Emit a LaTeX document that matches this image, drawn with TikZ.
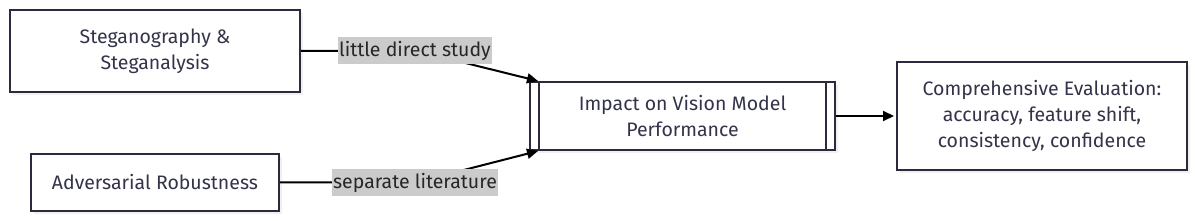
\documentclass[tikz,border=0pt]{standalone}
\usepackage{fontspec}
\setmainfont{Fira Sans}
\usetikzlibrary{positioning,arrows.meta,shadows}
\definecolor{boxline}{HTML}{2B2A3F}
\definecolor{boxtext}{HTML}{33334A}
\definecolor{labelbg}{HTML}{CBCBCB}

\begin{document}
\begin{tikzpicture}[x=1pt,y=-1pt,
  every node/.style={font=\fontsize{19.5}{25.7}\selectfont, text=boxtext},
  box/.style={draw=boxline, line width=2pt, fill=white, align=center, inner sep=0pt,
    drop shadow={shadow xshift=3pt, shadow yshift=-3pt, fill=black!6, opacity=1}},
  edgelabel/.style={fill=labelbg, inner xsep=1pt, minimum height=25pt, text=black!85},
  link/.style={line width=2pt, black, -{Triangle[length=11pt,width=10pt]}}]
  \useasboundingbox (0,0) rectangle (1200,221);
  % source boxes
  \node[box, minimum width=290pt, minimum height=82pt] (steg) at (155,51) {Steganography \&\\Steganalysis};
  \node[box, minimum width=248pt, minimum height=57pt] (adv) at (155,182.5) {Adversarial Robustness};
  % impact box with side bars
  \node[box, minimum width=305pt, minimum height=68pt] (impact) at (682.5,116) {Impact on Vision Model\\Performance};
  \draw[boxline, line width=2pt] ([xshift=10pt]impact.north west) -- ([xshift=10pt]impact.south west);
  \draw[boxline, line width=2pt] ([xshift=-10pt]impact.north east) -- ([xshift=-10pt]impact.south east);
  % evaluation box
  \node[box, minimum width=290pt, minimum height=108pt] (eval) at (1042,116) {Comprehensive Evaluation:\\accuracy, feature shift,\\consistency, confidence};
  % connectors
  \coordinate (studypos) at (415,50.5);
  \coordinate (litpos) at (415,182.5);
  \coordinate (impacttop) at ([xshift=9pt]impact.north west);
  \coordinate (impactbot) at ([xshift=9pt]impact.south west);
  \draw[link] (steg.east) -- (studypos) -- (impacttop);
  \draw[link] (adv.east) -- (litpos) -- (impactbot);
  \draw[link, shorten >=2pt] (impact.east) -- (eval.west);
  \node[edgelabel] (study) at (studypos) {little direct study};
  \node[edgelabel] (lit) at (litpos) {separate literature};
\end{tikzpicture}
\end{document}
